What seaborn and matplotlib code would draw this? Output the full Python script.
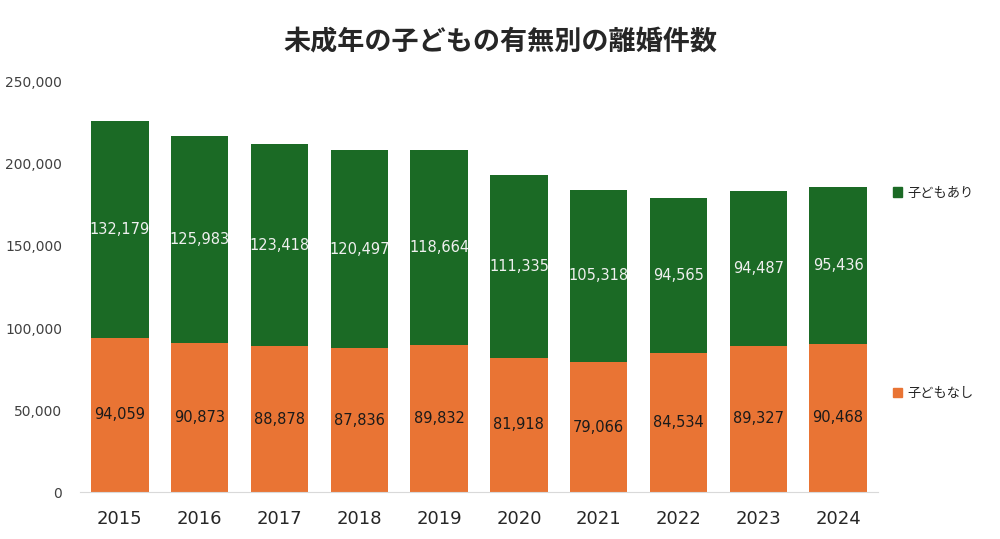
import seaborn as sns
import matplotlib.pyplot as plt
import pandas as pd
from matplotlib.patches import Patch
from matplotlib.ticker import FuncFormatter

years = ['2015', '2016', '2017', '2018', '2019', '2020', '2021', '2022', '2023', '2024']
kodomo_ari = [132179, 125983, 123418, 120497, 118664, 111335, 105318, 94565, 94487, 95436]
kodomo_nashi = [94059, 90873, 88878, 87836, 89832, 81918, 79066, 84534, 89327, 90468]

sns.set_style('white')
plt.rcParams['font.family'] = ['DejaVu Sans', 'Noto Sans CJK JP']

green = '#1b6a25'
orange = '#e97434'

df = pd.DataFrame({'year': years, 'ari': kodomo_ari, 'nashi': kodomo_nashi})
df['total'] = df['ari'] + df['nashi']

fig = plt.figure(figsize=(10, 5.39), dpi=100)
ax = fig.add_axes([0.08, 0.087, 0.798, 0.761])

# 合計を緑で描き、その上に子どもなしをオレンジで重ねる
sns.barplot(data=df, x='year', y='total', color=green, width=0.72,
            saturation=1, linewidth=0, ax=ax)
sns.barplot(data=df, x='year', y='nashi', color=orange, width=0.72,
            saturation=1, linewidth=0, ax=ax)

for i, row in df.iterrows():
    ax.text(i, row['nashi'] / 2, f"{row['nashi']:,}", ha='center', va='center',
            fontsize=10.5, color='#1a1a1a')
    ax.text(i, row['nashi'] + row['ari'] / 2, f"{row['ari']:,}", ha='center',
            va='center', fontsize=10.5, color='#f0f0f0')

ax.set_ylim(0, 250000)
ax.set_xlim(-0.5, 9.5)
ax.set_yticks(range(0, 250001, 50000))
ax.yaxis.set_major_formatter(FuncFormatter(lambda v, p: f'{int(v):,}'))
ax.tick_params(axis='y', labelsize=10, colors='#404040', length=0, pad=13)
ax.tick_params(axis='x', labelsize=13, colors='#262626', length=0, pad=13)
ax.set_xlabel('')
ax.set_ylabel('')
for s in ['top', 'right', 'left']:
    ax.spines[s].set_visible(False)
ax.spines['bottom'].set_color('#d9d9d9')

fig.suptitle('未成年の子どもの有無別の離婚件数', fontsize=19.5, fontweight='bold',
             family=['Noto Sans CJK JP', 'DejaVu Sans'], y=0.924, va='center')

handles = [Patch(color=green, label='子どもあり'), Patch(color=orange, label='子どもなし')]
fig.legend(handles=handles, loc='upper left', bbox_to_anchor=(0.881, 0.676),
           frameon=False, handlelength=0.7, handleheight=0.7, handletextpad=0.4,
           labelspacing=14.2, prop={'family': ['Noto Sans CJK JP', 'DejaVu Sans'], 'size': 9.5})

fig.savefig('out.png', dpi=100, facecolor='white')
